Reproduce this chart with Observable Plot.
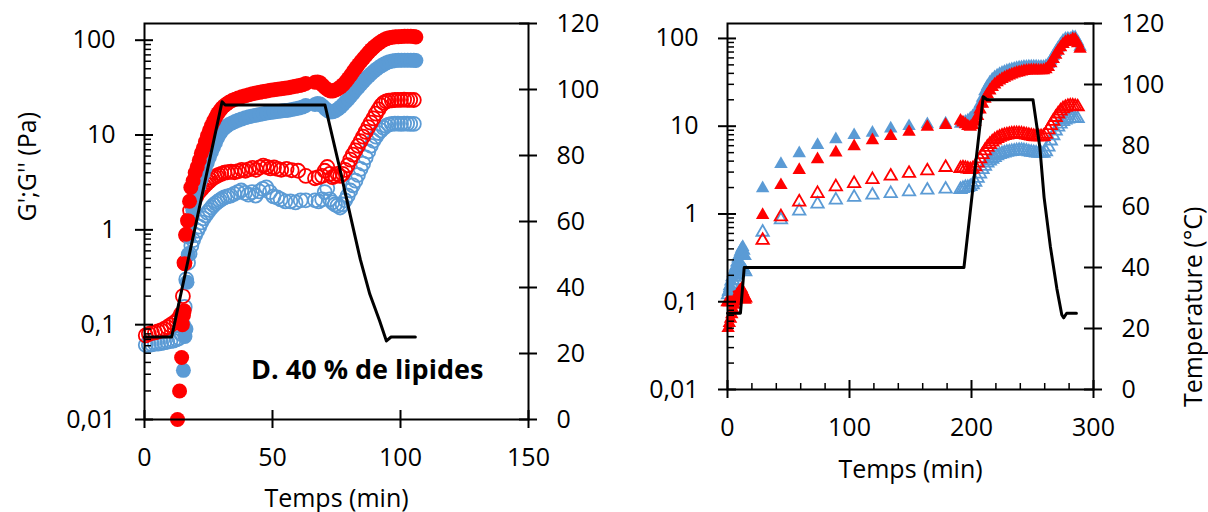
<!DOCTYPE html>
<html><head><meta charset="utf-8">
<script src="https://cdn.jsdelivr.net/npm/d3@7"></script>
<script src="https://cdn.jsdelivr.net/npm/@observablehq/plot@0.6"></script>
<style>
body{margin:0;background:#fff;}
#wrap{display:flex;width:1208px;height:512px;overflow:hidden;background:#fff;}
</style></head><body><div id="wrap"></div>
<script>
const RED = "#FF0000", BLUE = "#5B9BD5";

// ---------- Left panel (circles) : [time (min), modulus (Pa)] ----------
const leftGpRed = [[12.9,0.01],[13.7,0.02],[14.5,0.045],[14.8,0.1],[15.2,0.125],[15.5,0.14],[15.7,0.44],[16.3,0.9],[17,1.25],[17.6,2.0],[18.1,2.8],[19,3.3],[19.8,4.0],[20.6,4.6],[21.4,5.4],[22.2,6.4],[23,7.3],[23.8,8.5],[24.6,9.8],[25.4,11.2],[26.2,12.6],[27,14],[27.8,15.4],[28.6,16.8],[29.4,18],[30.2,19.2],[31,20.2],[32,21.2],[33,22.2],[34.2,23.1],[35.4,23.9],[36.6,24.5],[38,25.3],[39.4,26],[40.8,26.6],[42.2,27.2],[43.6,27.8],[45,28.2],[46.4,28.7],[47.8,29.2],[49.2,29.7],[50.6,30],[52,30.4],[53.4,30.8],[54.8,31.2],[56.2,31.6],[57.6,32.1],[59,32.6],[60.4,33.2],[61.8,34],[63,35],[66.6,36],[67.6,36.3],[68.6,35.5],[69.6,33.5],[70.6,31.5],[71.6,30],[72.6,29.2],[73.6,29.2],[74.6,29.8],[75.6,30.8],[76.6,32.2],[77.6,34],[78.6,36.5],[79.6,39.5],[80.6,43],[81.6,47],[82.6,51],[83.6,55.5],[84.6,60],[85.6,64.5],[86.6,69.5],[87.6,74.5],[88.6,79.5],[89.6,84.5],[90.6,89],[91.6,93.5],[92.6,97.5],[93.6,101],[94.6,104],[95.6,106],[96.8,107.5],[98,108.5],[99.2,109],[100.4,109.5],[101.6,110],[102.8,110],[104,110],[105.2,109.5],[106,108]];
const leftGpBlue = [[15.2,0.033],[15.8,0.075],[16.2,0.09],[16.6,0.28],[17.1,0.55],[17.4,0.84],[18,1.2],[18.9,1.6],[19.7,2.0],[20.5,2.5],[21.3,2.9],[22.1,3.4],[22.9,3.9],[23.7,4.5],[24.5,5.1],[25.3,5.8],[26.1,6.6],[26.9,7.4],[27.7,8.3],[28.5,9.3],[29.3,10.2],[30.1,11],[31,11.7],[32,12.3],[33,12.9],[34.2,13.4],[35.4,13.9],[36.6,14.3],[38,14.8],[39.4,15.2],[40.8,15.6],[42.2,15.9],[43.6,16.2],[45,16.5],[46.4,16.8],[47.8,17.1],[49.2,17.3],[50.6,17.5],[52,17.7],[53.4,17.9],[54.8,18.1],[56.2,18.3],[57.6,18.6],[59,18.9],[60.4,19.3],[61.8,19.8],[63,20.5],[66.6,21],[67.6,21.5],[68.6,21.2],[69.6,20.2],[70.6,19],[71.6,18],[72.6,17.5],[73.6,17.6],[74.6,18],[75.6,18.8],[76.6,19.8],[77.6,21],[78.6,22.5],[79.6,24],[80.6,25.8],[81.6,27.8],[82.6,30],[83.6,32.2],[84.6,34.5],[85.6,37],[86.6,39.5],[87.6,42],[88.6,44.5],[89.6,47],[90.6,49.5],[91.6,51.8],[92.6,54],[93.6,56],[94.6,57.8],[95.6,59.2],[96.8,60.2],[98,61],[99.2,61.3],[100.4,61.5],[101.6,61.5],[102.8,61.5],[104,61.5],[105.2,61.3],[106,61]];
const leftGppRed = [[0.5,0.077],[1.7,0.08],[2.9,0.082],[4.1,0.083],[5.3,0.085],[6.5,0.087],[7.7,0.09],[8.9,0.094],[10.1,0.099],[11.3,0.104],[12.5,0.11],[13.5,0.118],[14.3,0.13],[15,0.2],[15.6,0.45],[16.2,0.88],[17,1.25],[17.8,1.6],[18.6,1.85],[19.4,2.05],[20.2,2.25],[21,2.45],[21.8,2.6],[22.6,2.75],[23.4,2.9],[24.2,3.05],[25,3.2],[25.8,3.35],[26.6,3.5],[27.4,3.6],[28.2,3.7],[29,3.8],[30,3.9],[31.2,4.0],[32.4,4.05],[33.8,4.1],[35.2,4.05],[36.6,4.15],[38,4.3],[39.4,4.2],[40.8,4.35],[42.2,4.5],[43.6,4.3],[45,4.55],[46.4,4.75],[47.8,4.6],[49.2,4.45],[50.6,4.55],[52,4.4],[53.4,4.3],[55.5,4.4],[57.5,4.25],[60,4.2],[63,3.7],[66.6,3.5],[68,3.6],[69.4,3.7],[70.4,4.2],[71.4,4.6],[72.4,3.9],[73.4,3.6],[74.4,3.7],[75.4,3.9],[76.4,3.7],[77.4,3.9],[78.4,4.3],[79.4,4.8],[80.4,5.5],[81.4,6.2],[82.4,6.9],[83.4,7.7],[84.4,8.6],[85.4,9.6],[86.4,10.8],[87.4,12.1],[88.4,13.5],[89.4,15],[90.4,16.8],[91.4,18.6],[92.4,20.5],[93.4,21.8],[94.4,22.6],[95.4,23],[96.6,23.2],[97.8,23.4],[99,23.5],[100.2,23.5],[101.4,23.6],[102.6,23.5],[103.8,23.5],[105.2,23.4]];
const leftGppBlue = [[0.5,0.061],[1.7,0.061],[2.9,0.062],[4.1,0.063],[5.3,0.063],[6.5,0.064],[7.7,0.065],[8.9,0.066],[10.1,0.067],[11.3,0.068],[12.5,0.07],[13.5,0.072],[14.3,0.08],[15,0.1],[15.7,0.154],[16.3,0.3],[17,0.45],[17.6,0.56],[18.3,0.68],[19,0.78],[19.8,0.88],[20.6,0.98],[21.4,1.08],[22.2,1.2],[23,1.32],[23.8,1.42],[24.6,1.52],[25.4,1.62],[26.2,1.72],[27,1.82],[27.8,1.9],[28.6,1.98],[29.4,2.05],[30.2,2.12],[31.2,2.2],[32.4,2.25],[33.6,2.3],[35,2.4],[36.4,2.5],[37.8,2.6],[39.2,2.45],[40.6,2.35],[42,2.5],[43.4,2.3],[44.8,2.55],[46.2,2.7],[47.6,2.8],[49,2.5],[50.4,2.25],[51.8,2.2],[53.2,2.1],[55,2.0],[57,2.0],[59,1.95],[61,2.05],[63,2.05],[66.6,2.05],[68,2.0],[69.4,2.1],[70.4,2.5],[71.4,2.75],[72.4,2.1],[73.4,1.95],[74.4,1.85],[75.4,1.8],[76.4,1.72],[77.4,1.85],[78.4,2.05],[79.4,2.3],[80.4,2.6],[81.4,2.95],[82.4,3.3],[83.4,3.8],[84.4,4.4],[85.4,5.0],[86.4,5.8],[87.4,6.7],[88.4,7.7],[89.4,8.7],[90.4,9.6],[91.4,10.5],[92.4,11.2],[93.4,11.9],[94.4,12.5],[95.4,12.9],[96.6,13.1],[97.8,13.2],[99,13.2],[100.2,13.1],[101.4,13.2],[102.6,13.2],[103.8,13.1],[105.2,13.1]];
// [time (min), temperature (°C)]
const leftTemp = [[0,25],[10.6,25],[30.3,96.3],[31.5,95.3],[70.5,95.3],[76,77],[80.5,61.5],[84.3,48.5],[88,38],[91.8,30],[94.5,23.8],[96.3,25],[105.8,25]];

// ---------- Right panel (triangles) ----------
const rightGpBlue = [[0.5,0.13],[1.5,0.15],[2.5,0.17],[3.5,0.19],[4.5,0.21],[5.5,0.23],[6.5,0.25],[7.5,0.28],[8.5,0.31],[9.5,0.34],[10.5,0.37],[11.5,0.4],[12.5,0.42],[13.5,0.38],[14.5,0.33],
  [28.8,1.96],[43.8,3.7],[58.8,4.9],[73.8,6.1],[88.8,7.1],[103.8,7.9],[118.8,8.4],[133.8,9.4],[148.8,10],[163.8,10.5],[178.8,10.7],
  [191,10.6],[193,10.8],[195,11.2],[197,11.6],[199,12.2],[201,13],[203,14],[205,15.5],[207,18],[209,21],[211,25],[213,28.5],[215,31.5],[217,34],[219,36],[221,37.8],[223,39.3],[225,40.6],[227,41.8],[229,42.8],[231,43.7],[233,44.5],[235,45.2],[237,45.9],[239,46.5],[241,47],[243,47.4],[245,47.7],[247,47.9],[249,48],[251,48],[253,47.8],[255,47.6],[257,47.5],[259,47.6],[261,48.5],[263,51],[265,56],[267,63],[269,70],[271,78],[273,86],[275,94],[277,99],[279,100],[281,99],[283,104],[285,103],[287,92],[289,80]];
const rightGpRed = [[0.5,0.05],[1.5,0.057],[2.5,0.064],[3.5,0.072],[4.5,0.082],[5.5,0.092],[6.5,0.1],[7.5,0.11],[8.5,0.12],[9.5,0.13],[10.5,0.135],[11.5,0.14],[12.5,0.13],[13.5,0.12],[14.5,0.105],
  [28.8,0.97],[43.8,2.13],[58.8,3.16],[73.8,4.2],[88.8,5.0],[103.8,5.9],[118.8,6.9],[133.8,7.7],[148.8,8.6],[163.8,9.8],[178.8,10.3],
  [191,11.5],[193,11],[195,10.5],[197,10],[199,9.8],[201,10.2],[203,11.2],[205,13],[207,15.5],[209,18],[211,20.5],[213,23],[215,25.5],[217,27.8],[219,29.8],[221,31.5],[223,33],[225,34.4],[227,35.6],[229,36.8],[231,37.8],[233,38.8],[235,39.7],[237,40.5],[239,41.2],[241,41.8],[243,42.4],[245,42.9],[247,43.2],[249,43.4],[251,43.4],[253,43.3],[255,43.2],[257,43.2],[259,43.4],[261,44.5],[263,47],[265,52],[267,58],[269,65],[271,72],[273,79],[275,86],[277,91],[279,94],[281,93],[283,98],[285,97],[287,88],[289,76]];
const rightGppBlue = [[0.5,0.12],[1.5,0.13],[2.5,0.145],[3.5,0.16],[4.5,0.175],[5.5,0.19],[6.5,0.2],[7.5,0.21],[8.5,0.22],[9.5,0.23],[10.5,0.24],[11.5,0.25],[12.5,0.24],[13.5,0.23],[14.5,0.22],
  [28.8,0.62],[43.8,0.86],[58.8,1.08],[73.8,1.3],[88.8,1.44],[103.8,1.55],[118.8,1.64],[133.8,1.71],[148.8,1.79],[163.8,1.87],[178.8,1.92],
  [191,1.9],[193,1.95],[195,2.0],[197,2.0],[199,2.05],[201,2.15],[203,2.3],[205,2.55],[207,2.85],[209,3.2],[211,3.5],[213,3.8],[215,4.0],[217,4.2],[219,4.4],[221,4.6],[223,4.75],[225,4.85],[227,4.95],[229,5.05],[231,5.1],[233,5.15],[235,5.2],[237,5.25],[239,5.3],[241,5.3],[243,5.25],[245,5.2],[247,5.1],[249,5.05],[251,5.0],[253,4.95],[255,4.9],[257,4.9],[259,4.9],[261,5.1],[263,5.8],[265,6.8],[267,7.8],[269,8.8],[271,9.8],[273,10.6],[275,11.3],[277,11.8],[279,12.1],[281,12.3],[283,12.3],[285,12.2],[287,12.2]];
const rightGppRed = [[0.5,0.1],[1.5,0.1],[2.5,0.1],[3.5,0.105],[4.5,0.105],[5.5,0.11],[6.5,0.11],[7.5,0.115],[8.5,0.115],[9.5,0.12],[10.5,0.12],[11.5,0.12],[12.5,0.12],[13.5,0.115],[14.5,0.11],
  [28.8,0.5],[43.8,0.93],[58.8,1.37],[73.8,1.71],[88.8,2.04],[103.8,2.22],[118.8,2.47],[133.8,2.7],[148.8,2.9],[163.8,3.1],[178.8,3.39],
  [191,3.3],[193,3.35],[195,3.3],[197,3.25],[199,3.2],[201,3.25],[203,3.45],[205,3.8],[207,4.25],[209,4.75],[211,5.25],[213,5.75],[215,6.2],[217,6.6],[219,6.95],[221,7.25],[223,7.5],[225,7.7],[227,7.85],[229,7.95],[231,8.05],[233,8.15],[235,8.2],[237,8.2],[239,8.2],[241,8.15],[243,8.05],[245,7.95],[247,7.85],[249,7.75],[251,7.65],[253,7.6],[255,7.6],[257,7.6],[259,7.65],[261,8.1],[263,9.1],[265,10.2],[267,11.4],[269,12.6],[271,13.8],[273,14.9],[275,15.8],[277,16.4],[279,16.8],[281,17],[283,17],[285,16.8],[287,16.6]];
const rightTemp = [[0,25],[10.6,25],[13.7,40],[193.8,40],[209.6,96],[212.8,95],[250.4,95],[256,79.5],[259.5,63],[264.6,47],[270,33],[274,24.5],[275.5,23.5],[278,25],[286,25]];

// ---------- ticks & labels ----------
const decadeTicks = [0.01, 0.1, 1, 10, 100];
const decadeLabels = ["0,01", "0,1", "1", "10", "100"];
const minorMultipliers = [2, 3, 4, 5, 6, 7, 8, 9];
const minorTicks = [0.01, 0.1, 1, 10].flatMap(b => minorMultipliers.map(m => +(b * m).toPrecision(3)));
const tempTicks = [0, 20, 40, 60, 80, 100, 120];
const leftXTicks = [0, 50, 100, 150];
const rightXTicks = [0, 100, 200, 300];
const rightXMinor = [20, 40, 60, 80, 120, 140, 160, 180, 220, 240, 260, 280];
const xTitle = "Temps (min)";
const yTitle = "G';G'' (Pa)";
const tTitle = "Temperature (°C)";
const note = {label: "D. 40 % de lipides", t: 87, v: 0.033};

const FONT = "'Open Sans', sans-serif";

function panel(o) {
  const lo = Math.log10(0.01), hi = Math.log10(o.yMax);
  const t2y = T => Math.pow(10, lo + T / 120 * (hi - lo));
  const marks = [];
  for (const s of o.series) {
    marks.push(Plot.dot(s.data, {
      x: d => d[0], y: d => d[1], r: s.r, symbol: s.symbol,
      fill: s.filled ? s.color : "none",
      stroke: s.filled ? "none" : s.color,
      strokeWidth: s.filled ? 0 : 1.8
    }));
  }
  marks.push(Plot.line(o.temp, {x: d => d[0], y: d => t2y(d[1]), stroke: "black", strokeWidth: 3}));
  marks.push(Plot.frame({stroke: "black", strokeWidth: 2}));
  // left log axis
  marks.push(Plot.axisY(decadeTicks, {anchor: "left", tickSize: 9, tickPadding: 20, strokeWidth: 2, label: null,
    tickFormat: d => decadeLabels[decadeTicks.indexOf(d)], fontSize: 25}));
  marks.push(Plot.axisY(decadeTicks, {anchor: "left", tickSize: 9, dx: 9, fill: "none", strokeWidth: 2, label: null}));
  marks.push(Plot.axisY(minorTicks, {anchor: "left", tickSize: 7, dx: 7, fill: "none", strokeWidth: 1.5, label: null}));
  // right temperature axis (ticks via axis, labels via text)
  marks.push(Plot.axisY(tempTicks, {anchor: "right", y: d => t2y(d), tickSize: 8, fill: "none", strokeWidth: 2, label: null}));
  marks.push(Plot.axisY(tempTicks, {anchor: "right", y: d => t2y(d), tickSize: 10, dx: -10, fill: "none", strokeWidth: 2, label: null}));
  marks.push(Plot.text(tempTicks, {frameAnchor: "right", y: d => t2y(d), text: d => String(d), dx: 28, textAnchor: "start", fontSize: 25}));
  // x axis
  marks.push(Plot.axisX(o.xTicks, {anchor: "bottom", tickSize: 9, tickPadding: 20, strokeWidth: 2, label: null,
    tickFormat: d => String(d), fontSize: 25}));
  marks.push(Plot.axisX(o.xTicks, {anchor: "bottom", tickSize: 9, dy: -9, fill: "none", strokeWidth: 2, label: null}));
  if (o.xMinor) marks.push(Plot.axisX(o.xMinor, {anchor: "bottom", tickSize: 6, dy: -6, fill: "none", strokeWidth: 1.5, label: null}));
  // titles
  marks.push(Plot.text([xTitle], {frameAnchor: "bottom", dy: o.xTitleDy, text: d => d, fontSize: 25}));
  if (o.yTitle) marks.push(Plot.text([o.yTitle], {frameAnchor: "left", dx: o.yTitleDx, rotate: -90, text: d => d, fontSize: 25}));
  if (o.tTitle) marks.push(Plot.text([o.tTitle], {frameAnchor: "right", dx: o.tTitleDx, rotate: -90, text: d => d, fontSize: 25}));
  if (o.note) marks.push(Plot.text([o.note], {x: d => d.t, y: d => d.v, text: d => d.label, fontSize: 27, fontWeight: "bold"}));
  return Plot.plot({
    width: o.width, height: 512,
    marginLeft: o.mL, marginRight: o.mR, marginTop: 23, marginBottom: o.mB,
    style: {fontFamily: FONT, fontSize: "25px", background: "white", color: "black", overflow: "visible"},
    x: {domain: o.xDomain},
    y: {type: "log", domain: [0.01, o.yMax]},
    marks
  });
}

const left = panel({
  width: 600, mL: 144, mR: 72, mB: 93, xDomain: [0, 150], yMax: 150,
  xTicks: leftXTicks, temp: leftTemp, xTitleDy: 87,
  yTitle: yTitle, yTitleDx: -117, note: note,
  series: [
    {data: leftGppBlue, color: BLUE, filled: false, r: 7, symbol: "circle"},
    {data: leftGppRed, color: RED, filled: false, r: 7, symbol: "circle"},
    {data: leftGpBlue, color: BLUE, filled: true, r: 7.5, symbol: "circle"},
    {data: leftGpRed, color: RED, filled: true, r: 7.5, symbol: "circle"}
  ]
});
const right = panel({
  width: 608, mL: 127, mR: 115, mB: 123, xDomain: [0, 300], yMax: 148,
  xTicks: rightXTicks, xMinor: rightXMinor, temp: rightTemp, xTitleDy: 88,
  tTitle: tTitle, tTitleDx: 100,
  series: [
    {data: rightGppBlue, color: BLUE, filled: false, r: 4.6, symbol: "triangle"},
    {data: rightGppRed, color: RED, filled: false, r: 4.6, symbol: "triangle"},
    {data: rightGpBlue, color: BLUE, filled: true, r: 5, symbol: "triangle"},
    {data: rightGpRed, color: RED, filled: true, r: 5, symbol: "triangle"}
  ]
});
document.getElementById("wrap").append(left, right);
</script>
</body></html>
